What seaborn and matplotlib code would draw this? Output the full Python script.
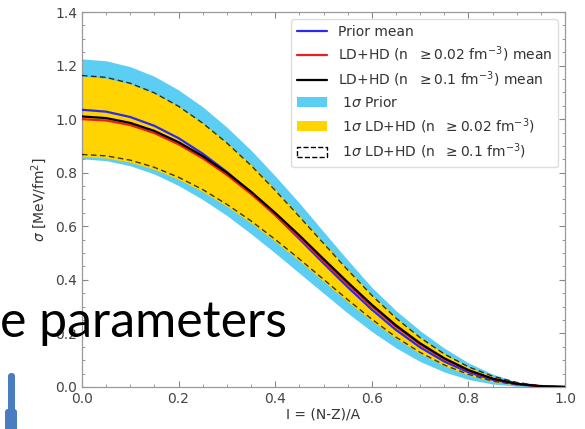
import numpy as np
import pandas as pd
import matplotlib
matplotlib.use("Agg")
import matplotlib.pyplot as plt
from matplotlib.patches import Patch, FancyBboxPatch
from matplotlib.lines import Line2D
from matplotlib.ticker import MultipleLocator
import seaborn as sns

# isospin asymmetry grid
asym = [0.00, 0.05, 0.10, 0.15, 0.20, 0.25, 0.30, 0.35, 0.40, 0.45, 0.50,
        0.55, 0.60, 0.65, 0.70, 0.75, 0.80, 0.85, 0.90, 0.95, 1.00]

# surface tension means [MeV/fm^2]
prior_mean = [1.035, 1.028, 1.008, 0.975, 0.929, 0.871, 0.803, 0.726, 0.642, 0.553, 0.462,
              0.373, 0.289, 0.213, 0.148, 0.095, 0.055, 0.027, 0.010, 0.002, 0.000]
ld002_mean = [1.000, 0.995, 0.978, 0.948, 0.906, 0.854, 0.792, 0.721, 0.642, 0.558, 0.470,
              0.384, 0.301, 0.225, 0.159, 0.104, 0.061, 0.030, 0.012, 0.003, 0.000]
ld01_mean = [1.010, 1.004, 0.986, 0.956, 0.914, 0.862, 0.800, 0.729, 0.650, 0.566, 0.478,
             0.391, 0.307, 0.230, 0.163, 0.107, 0.063, 0.031, 0.012, 0.003, 0.000]

# 1-sigma envelopes
prior_lo = [0.852, 0.845, 0.826, 0.795, 0.752, 0.700, 0.640, 0.572, 0.500, 0.425, 0.350,
            0.276, 0.207, 0.146, 0.095, 0.056, 0.028, 0.011, 0.003, 0.000, 0.000]
prior_hi = [1.225, 1.218, 1.196, 1.160, 1.109, 1.046, 0.970, 0.884, 0.788, 0.687, 0.580,
            0.474, 0.372, 0.285, 0.210, 0.145, 0.090, 0.048, 0.019, 0.004, 0.000]
ld002_lo = [0.860, 0.855, 0.839, 0.812, 0.775, 0.729, 0.674, 0.612, 0.543, 0.470, 0.394,
            0.318, 0.246, 0.180, 0.124, 0.078, 0.044, 0.020, 0.007, 0.001, 0.000]
ld002_hi = [1.160, 1.153, 1.132, 1.097, 1.048, 0.986, 0.913, 0.830, 0.738, 0.640, 0.540,
            0.440, 0.345, 0.260, 0.186, 0.124, 0.075, 0.040, 0.017, 0.004, 0.000]
ld01_lo = [0.868, 0.863, 0.847, 0.820, 0.783, 0.737, 0.682, 0.620, 0.551, 0.478, 0.402,
           0.326, 0.253, 0.186, 0.129, 0.082, 0.047, 0.022, 0.008, 0.002, 0.000]
ld01_hi = [1.163, 1.156, 1.134, 1.098, 1.048, 0.985, 0.911, 0.827, 0.734, 0.636, 0.536,
           0.437, 0.342, 0.257, 0.184, 0.123, 0.075, 0.040, 0.017, 0.004, 0.000]

labels = ["Prior mean",
          r"LD+HD (n  $\geq$0.02 fm$^{-3}$) mean",
          r"LD+HD (n  $\geq$0.1 fm$^{-3}$) mean",
          r" 1$\sigma$ Prior",
          r" 1$\sigma$ LD+HD (n  $\geq$0.02 fm$^{-3}$)",
          r" 1$\sigma$ LD+HD (n  $\geq$0.1 fm$^{-3}$)"]

c_prior, c_ld002, c_ld01 = "#2a2af0", "#ee1c1c", "#000000"
c_band_prior, c_band_ld = "#5ccdf3", "#ffd400"

sns.set_style("ticks")
plt.rcParams.update({
    "xtick.direction": "in", "ytick.direction": "in",
    "xtick.top": True, "ytick.right": True,
    "xtick.color": "#888888", "ytick.color": "#888888",
    "xtick.labelcolor": "#444444", "ytick.labelcolor": "#444444",
})
plt.rcParams["font.family"] = ["DejaVu Sans"]

fig = plt.figure(figsize=(5.85, 4.29), dpi=100)
ax = fig.add_axes([0.140, 0.098, 0.826, 0.874])

ax.fill_between(asym, prior_lo, prior_hi, color=c_band_prior, lw=0, zorder=1)
ax.fill_between(asym, ld002_lo, ld002_hi, color=c_band_ld, lw=0, zorder=2)
for edge in (ld01_lo, ld01_hi):
    ax.plot(asym, edge, color="black", ls=(0, (4, 2.5)), lw=1.0, alpha=0.75, zorder=3)

means = pd.DataFrame({
    "I": asym * 3,
    "sigma": prior_mean + ld002_mean + ld01_mean,
    "set": [labels[0]] * len(asym) + [labels[1]] * len(asym) + [labels[2]] * len(asym),
})
sns.lineplot(data=means, x="I", y="sigma", hue="set",
             palette=[c_prior, c_ld002, c_ld01], lw=1.6, ax=ax,
             legend=False, zorder=4)

ax.set_xlim(0, 1.0)
ax.set_ylim(0, 1.4)
ax.xaxis.set_major_locator(MultipleLocator(0.2))
ax.xaxis.set_minor_locator(MultipleLocator(0.05))
ax.yaxis.set_major_locator(MultipleLocator(0.2))
ax.yaxis.set_minor_locator(MultipleLocator(0.05))
ax.tick_params(which="major", length=4, width=0.8, labelsize=10)
ax.tick_params(which="minor", length=2, width=0.6)
for s in ax.spines.values():
    s.set_color("#999999")
    s.set_linewidth(0.9)

ax.set_xlabel("I = (N-Z)/A", fontsize=10, color="#333333", labelpad=1)
ax.set_ylabel(r"$\sigma$ [MeV/fm$^2$]", fontsize=10, color="#333333", labelpad=4)

handles = [
    Line2D([], [], color=c_prior, lw=1.6),
    Line2D([], [], color=c_ld002, lw=1.6),
    Line2D([], [], color=c_ld01, lw=1.6),
    Patch(facecolor=c_band_prior, edgecolor="none"),
    Patch(facecolor=c_band_ld, edgecolor="none"),
    Patch(facecolor="none", edgecolor="black", ls="--", lw=1.0),
]
leg = ax.legend(handles, labels, loc="upper right", fontsize=10,
                frameon=True, framealpha=1.0, edgecolor="#dddddd",
                borderaxespad=0.5, handlelength=2.2, labelspacing=0.42,
                bbox_to_anchor=(1.0, 1.0))
for t in leg.get_texts():
    t.set_color("#333333")

# slide overlay: heading fragment and accent bar
fig.text(0.0, 0.215, "e parameters", fontsize=36, family=["Lato", "DejaVu Sans"],
         color="black", va="baseline", ha="left")
fig.add_artist(FancyBboxPatch((8, -10), 7, 66, boxstyle="round,pad=0,rounding_size=3.5",
                              transform=None, facecolor="#4a7cc0", edgecolor="none"))
fig.add_artist(FancyBboxPatch((5, -10), 12, 30, boxstyle="round,pad=0,rounding_size=3",
                              transform=None, facecolor="#4a7cc0", edgecolor="none"))

fig.savefig("out.png", dpi=100)
